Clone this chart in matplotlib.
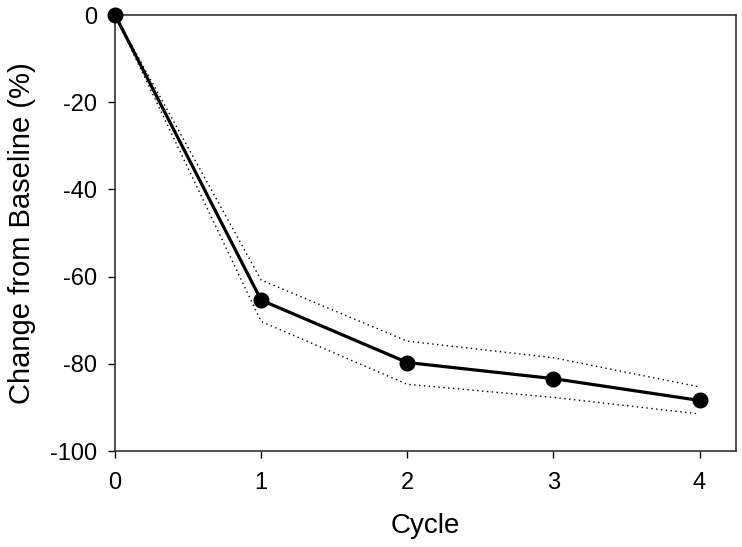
import matplotlib
matplotlib.use('Agg')
import matplotlib.pyplot as plt

plt.rcParams['font.family'] = ['Liberation Sans', 'DejaVu Sans']
plt.rcParams['axes.unicode_minus'] = False

# data
cycle = [0, 1, 2, 3, 4]
mean_change = [0, -65.4, -79.7, -83.4, -88.4]
upper_ci = [0, -60.8, -74.8, -78.6, -85.3]
lower_ci = [0, -70.3, -84.7, -87.7, -91.5]

fig = plt.figure(figsize=(7.42, 5.47), dpi=100)
ax = fig.add_axes([0.155, 0.1755, 0.837, 0.797])

ax.plot(cycle, upper_ci, color='black', linestyle=(0, (1, 2.5)), linewidth=1.0)
ax.plot(cycle, lower_ci, color='black', linestyle=(0, (1, 2.5)), linewidth=1.0)
ax.plot(cycle, mean_change, color='black', linewidth=2.3, marker='o',
        markersize=10.5, clip_on=False, zorder=5)

ax.set_xlim(0, 4.25)
ax.set_ylim(-100, 0)
ax.set_xticks([0, 1, 2, 3, 4])
ax.set_yticks([0, -20, -40, -60, -80, -100])
ax.tick_params(direction='out', length=5, width=1, labelsize=17, colors='black')
ax.tick_params(axis='x', pad=10)
ax.tick_params(axis='y', pad=8)
for s in ax.spines.values():
    s.set_color('#333333')
    s.set_linewidth(1.2)

ax.set_xlabel('Cycle', fontsize=20, labelpad=14)
ax.set_ylabel('Change from Baseline (%)', fontsize=21, labelpad=10)

fig.savefig('out.png', dpi=100)
